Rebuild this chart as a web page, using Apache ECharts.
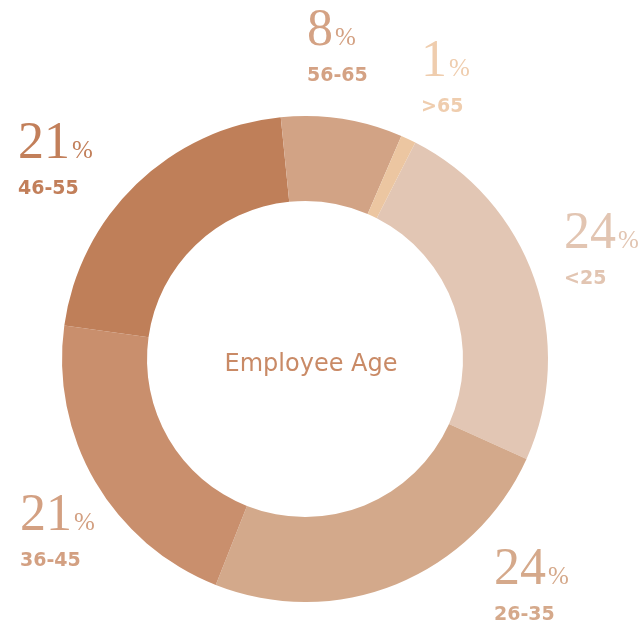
<!DOCTYPE html>
<html>
<head>
<meta charset="utf-8">
<script src="https://cdn.jsdelivr.net/npm/echarts@6/dist/echarts.min.js"></script>
<style>
    html, body { margin: 0; padding: 0; background: #fff; }
    #chart { width: 643px; height: 632px; }
</style>
</head>
<body>
<div id="chart"></div>
<script>
// 数据
var ageGroups = ["<25", "26-35", "36-45", "46-55", "56-65", ">65"];
var agePercent = [24, 24, 21, 21, 8, 1];

// 颜色
var sliceColors = ["#e2c6b4", "#d3a98b", "#c98f6d", "#bf7f59", "#d2a385", "#ecc6a1"];
var textColors = ["#e2c5b2", "#d5a98b", "#d3a082", "#c27f5a", "#d4a284", "#efcdae"];

// 标签位置 (左上角)
var labelPos = [
    [564, 201],
    [494, 537],
    [20, 483],
    [18, 111],
    [307, -2],
    [421, 29]
];

var myChart = echarts.init(document.getElementById("chart"));

var seriesData = [];
ageGroups.forEach(function (name, i) {
    seriesData.push({
        name: name,
        value: agePercent[i],
        itemStyle: { color: sliceColors[i] },
        label: { color: textColors[i] }
    });
});

var option = {
    animation: false,
    title: {
        text: "Employee Age",
        left: 306,
        top: 360,
        textAlign: "center",
        textVerticalAlign: "middle",
        textStyle: {
            color: "#c98a66",
            fontFamily: "DejaVu Sans",
            fontWeight: "normal",
            fontSize: 24
        }
    },
    series: [
        {
            type: "pie",
            center: [305, 359],
            radius: [158, 243],
            startAngle: 63,
            clockwise: true,
            avoidLabelOverlap: false,
            itemStyle: { borderWidth: 0 },
            emphasis: { disabled: true },
            labelLine: { show: false },
            label: {
                show: true,
                position: "outside",
                formatter: function (p) {
                    return "{n|" + p.value + "}{p|%}\n{a|" + p.name + "}";
                },
                rich: {
                    n: {
                        fontFamily: "Liberation Serif",
                        fontSize: 52,
                        lineHeight: 66
                    },
                    p: {
                        fontFamily: "Liberation Serif",
                        fontSize: 25,
                        padding: [14, 0, 0, 2]
                    },
                    a: {
                        fontFamily: "DejaVu Sans",
                        fontWeight: "bold",
                        fontSize: 19,
                        lineHeight: 24
                    }
                }
            },
            labelLayout: function (params) {
                var pos = labelPos[params.dataIndex];
                return {
                    x: pos[0],
                    y: pos[1],
                    align: "left",
                    verticalAlign: "top"
                };
            },
            data: seriesData
        }
    ]
};

myChart.setOption(option);
</script>
</body>
</html>
